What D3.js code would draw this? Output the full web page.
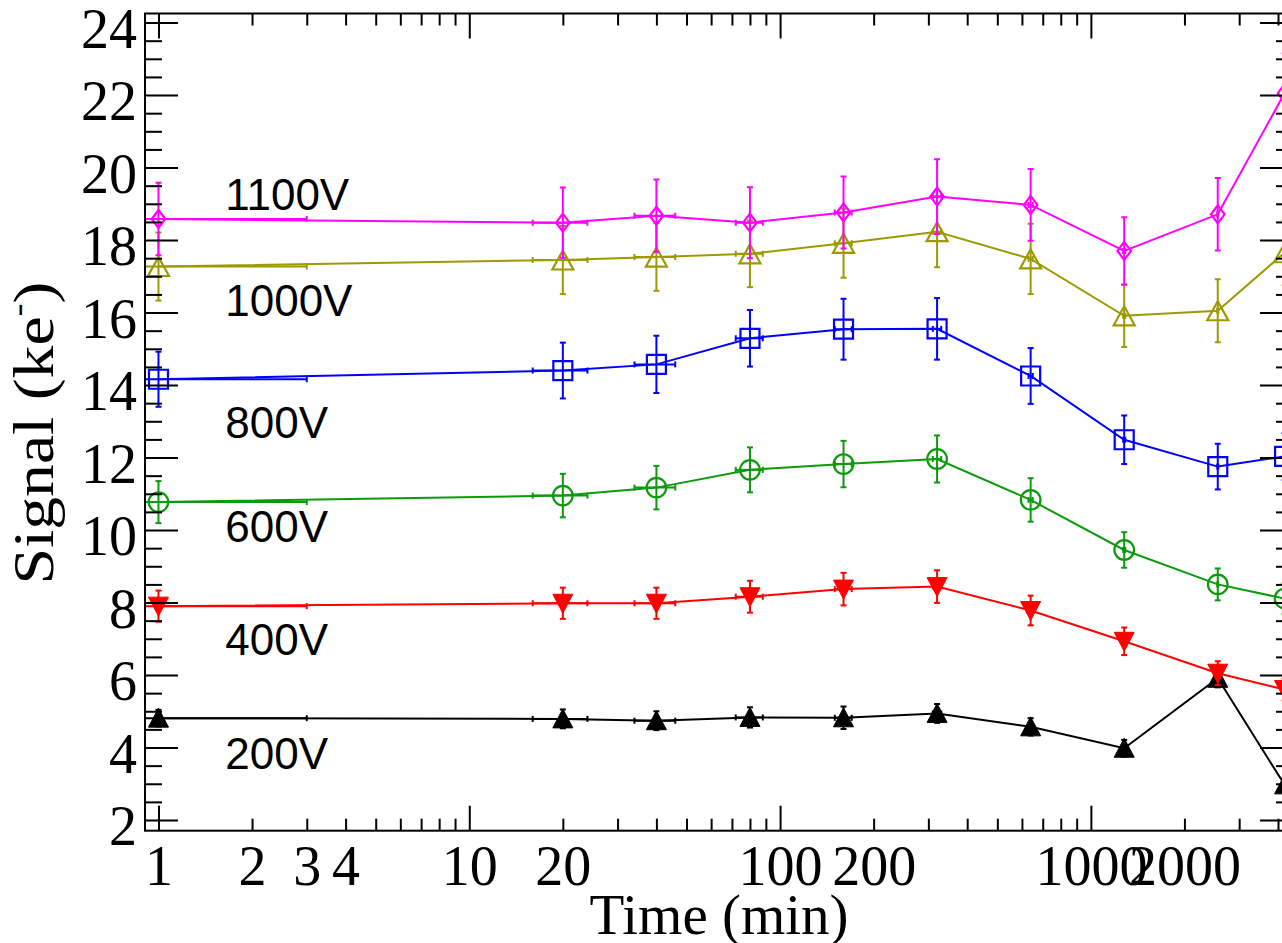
<!DOCTYPE html>
<html>
<head>
<meta charset="utf-8">
<script src="https://cdn.jsdelivr.net/npm/d3@7"></script>
<style>
  html, body { margin: 0; padding: 0; background: #fff; }
  svg { display: block; }
</style>
</head>
<body>
<svg id="chart" width="1282" height="943"></svg>
<script>
// ---------------- data ----------------
const times   = [1, 20, 40, 80, 160, 320, 640, 1280, 2560, 4200];
const timeErr = [2, 4, 6, 8, 10, 10, 10, 10, 10, 10];

const seriesNames = ["200V", "400V", "600V", "800V", "1000V", "1100V"];

const v200  = [4.81, 4.79, 4.74, 4.83, 4.82, 4.94, 4.57, 3.98, 5.91, 2.97];
const e200  = [0.23, 0.26, 0.26, 0.28, 0.31, 0.26, 0.24, 0.23, 0.25, 0.20];
const v400  = [7.90, 7.98, 7.98, 8.16, 8.37, 8.44, 7.78, 6.93, 6.05, 5.60];
const e400  = [0.43, 0.43, 0.43, 0.44, 0.45, 0.45, 0.41, 0.38, 0.33, 0.30];
const v600  = [10.77, 10.95, 11.17, 11.66, 11.82, 11.96, 10.83, 9.45, 8.50, 8.11];
const e600  = [0.58, 0.60, 0.60, 0.62, 0.64, 0.65, 0.60, 0.49, 0.44, 0.42];
const v800  = [14.16, 14.40, 14.57, 15.29, 15.54, 15.55, 14.25, 12.49, 11.75, 12.03];
const e800  = [0.76, 0.77, 0.79, 0.78, 0.84, 0.85, 0.77, 0.67, 0.63, 0.65];
const v1000 = [17.27, 17.45, 17.53, 17.62, 17.91, 18.23, 17.48, 15.91, 16.05, 17.65];
const e1000 = [0.94, 0.94, 0.93, 0.92, 0.95, 0.98, 0.97, 0.86, 0.87, 0.90];
const v1100 = [18.58, 18.48, 18.67, 18.48, 18.76, 19.20, 18.97, 17.70, 18.71, 22.05];
const e1100 = [1.00, 0.97, 1.00, 0.98, 0.99, 1.03, 0.99, 0.93, 1.00, 1.10];

// label anchor (data coordinates) for each series name
const labelTime   = [1.64, 1.64, 1.64, 1.64, 1.64, 1.64];
const labelSignal = [3.41, 6.555, 9.67, 12.54, 15.91, 18.83];

const yTickValues = [2, 4, 6, 8, 10, 12, 14, 16, 18, 20, 22, 24];
const xTickLabels = [1, 2, 3, 4, 10, 20, 100, 200, 1000, 2000];
const xMajorTicks = [1, 10, 100, 1000];

// ---------------- layout ----------------
const L = 145, R = 1293, T = 13.5, B = 830.7;
const svg = d3.select("#chart");

const x = d3.scaleLog().domain([0.905, 4470]).range([L, R]);
const y = d3.scaleLinear().domain([1.705, 24.25]).range([B, T]);

const serif = "'Liberation Serif', 'Times New Roman', Times, serif";
const sans  = "'Liberation Sans', Arial, Helvetica, sans-serif";

const styles = [
  { color: "#000000", shape: "triUpFilled" },
  { color: "#ff0000", shape: "triDownFilled" },
  { color: "#0b9a0b", shape: "circle" },
  { color: "#0000ff", shape: "square" },
  { color: "#9c9a00", shape: "triUpOpen" },
  { color: "#ff00ff", shape: "diamond" }
];
const values = [v200, v400, v600, v800, v1000, v1100];
const errs   = [e200, e400, e600, e800, e1000, e1100];

// ---------------- clip ----------------
svg.append("defs").append("clipPath").attr("id", "plotclip")
  .append("rect").attr("x", L).attr("y", T).attr("width", R - L).attr("height", B - T);

const plot = svg.append("g").attr("clip-path", "url(#plotclip)");

const line = d3.line().x(d => x(d.t)).y(d => y(d.v));

function markerPath(shape) {
  switch (shape) {
    case "triUpFilled":   return "M0,-10 L10,9 L-10,9 Z";
    case "triDownFilled": return "M0,10 L10,-9 L-10,-9 Z";
    case "triUpOpen":     return "M0,-9.5 L10.5,9.5 L-10.5,9.5 Z";
    case "square":        return "M-9.5,-9.5 L9.5,-9.5 L9.5,9.5 L-9.5,9.5 Z";
    case "diamond":       return "M0,-9 L6.8,0 L0,9 L-6.8,0 Z";
    case "circle":        return d3.arc()({innerRadius: 0, outerRadius: 9.8, startAngle: 0, endAngle: 2 * Math.PI});
  }
}

values.forEach((vals, si) => {
  const st = styles[si];
  const pts = times.map((t, i) => ({ t, v: vals[i], e: errs[si][i], te: timeErr[i] }));
  const g = plot.append("g").attr("class", "series-" + seriesNames[si]);

  g.append("path").datum(pts)
    .attr("d", line)
    .attr("fill", "none")
    .attr("stroke", st.color)
    .attr("stroke-width", 2);

  // error bars
  pts.forEach(p => {
    const cx = x(p.t), cy = y(p.v);
    const y1 = y(p.v + p.e), y2 = y(p.v - p.e);
    g.append("line").attr("x1", cx).attr("x2", cx).attr("y1", y1).attr("y2", y2)
      .attr("stroke", st.color).attr("stroke-width", 2);
    [y1, y2].forEach(yy => g.append("line")
      .attr("x1", cx - 3).attr("x2", cx + 3).attr("y1", yy).attr("y2", yy)
      .attr("stroke", st.color).attr("stroke-width", 2));
    // horizontal (time) error
    const lo = p.t - p.te, hi = p.t + p.te;
    const xl = lo > x.domain()[0] ? x(lo) : L - 2;
    const xh = x(hi);
    g.append("line").attr("x1", xl).attr("x2", xh).attr("y1", cy).attr("y2", cy)
      .attr("stroke", st.color).attr("stroke-width", 2);
    if (lo > x.domain()[0]) g.append("line").attr("x1", xl).attr("x2", xl).attr("y1", cy - 3).attr("y2", cy + 3)
      .attr("stroke", st.color).attr("stroke-width", 2);
    g.append("line").attr("x1", xh).attr("x2", xh).attr("y1", cy - 3).attr("y2", cy + 3)
      .attr("stroke", st.color).attr("stroke-width", 2);
  });

  const filled = st.shape.endsWith("Filled");
  g.selectAll("path.mk").data(pts).enter().append("path")
    .attr("class", "mk")
    .attr("d", markerPath(st.shape))
    .attr("transform", d => `translate(${x(d.t)},${y(d.v)})`)
    .attr("fill", filled ? st.color : "none")
    .attr("stroke", st.color)
    .attr("stroke-width", filled ? 1 : 2.2);
});

// series labels
svg.append("g").selectAll("text").data(seriesNames).enter().append("text")
  .attr("x", (d, i) => x(labelTime[i]))
  .attr("y", (d, i) => y(labelSignal[i]))
  .attr("font-family", sans)
  .attr("font-size", 44)
  .attr("fill", "#000")
  .text(d => d);

// ---------------- axes ----------------
const yMinor = d3.range(2, 24.01, 0.5).filter(v => !yTickValues.includes(v));
const xMinor = [];
[1, 10, 100, 1000].forEach(d => { for (let k = 2; k <= 9; k++) { const v = d * k; if (v <= x.domain()[1]) xMinor.push(v); } });

function styleAxis(g) {
  g.select(".domain").remove();
  g.selectAll(".tick line").attr("stroke", "#000").attr("stroke-width", 2);
  g.attr("font-family", serif).attr("font-size", 56);
  g.selectAll(".tick text").attr("fill", "#000");
}

// left
svg.append("g").attr("transform", `translate(${L},0)`)
  .call(d3.axisLeft(y).tickValues(yTickValues).tickSize(-33).tickPadding(8).tickFormat(d3.format("d")))
  .call(styleAxis)
  .call(g => g.selectAll(".tick text").attr("dy", "0.44em"));
svg.append("g").attr("transform", `translate(${L},0)`)
  .call(d3.axisLeft(y).tickValues(yMinor).tickSize(-17).tickFormat(""))
  .call(styleAxis);
// right
svg.append("g").attr("transform", `translate(${R},0)`)
  .call(d3.axisRight(y).tickValues(yTickValues).tickSize(-33).tickFormat(""))
  .call(styleAxis);
svg.append("g").attr("transform", `translate(${R},0)`)
  .call(d3.axisRight(y).tickValues(yMinor).tickSize(-17).tickFormat(""))
  .call(styleAxis);
// bottom
svg.append("g").attr("transform", `translate(0,${B})`)
  .call(d3.axisBottom(x).tickValues(xMajorTicks).tickSize(-25).tickFormat(""))
  .call(styleAxis);
svg.append("g").attr("transform", `translate(0,${B})`)
  .call(d3.axisBottom(x).tickValues(xMinor).tickSize(-12).tickFormat(""))
  .call(styleAxis);
svg.append("g").attr("transform", `translate(0,${B})`)
  .call(d3.axisBottom(x).tickValues(xTickLabels).tickSize(0).tickFormat(d3.format("d")))
  .call(styleAxis)
  .call(g => g.selectAll(".tick text").attr("y", 54).attr("dy", 0));
// top
svg.append("g").attr("transform", `translate(0,${T})`)
  .call(d3.axisTop(x).tickValues(xMajorTicks).tickSize(-25).tickFormat(""))
  .call(styleAxis);
svg.append("g").attr("transform", `translate(0,${T})`)
  .call(d3.axisTop(x).tickValues(xMinor).tickSize(-12).tickFormat(""))
  .call(styleAxis);

// frame
svg.append("rect").attr("x", L).attr("y", T).attr("width", R - L).attr("height", B - T)
  .attr("fill", "none").attr("stroke", "#000").attr("stroke-width", 2);

// axis titles
svg.append("text")
  .attr("x", (L + R) / 2).attr("y", 934)
  .attr("text-anchor", "middle")
  .attr("font-family", serif).attr("font-size", 57)
  .text("Time (min)");

const yl = svg.append("text")
  .attr("transform", "translate(53,433) rotate(-90)")
  .attr("text-anchor", "middle")
  .attr("font-family", serif).attr("font-size", 57)
  .attr("textLength", 303)
  .attr("lengthAdjust", "spacingAndGlyphs");
yl.append("tspan").text("Signal (ke");
yl.append("tspan").attr("font-size", 34).attr("dy", -24).text("-");
yl.append("tspan").attr("dy", 24).text(")");
</script>
</body>
</html>
